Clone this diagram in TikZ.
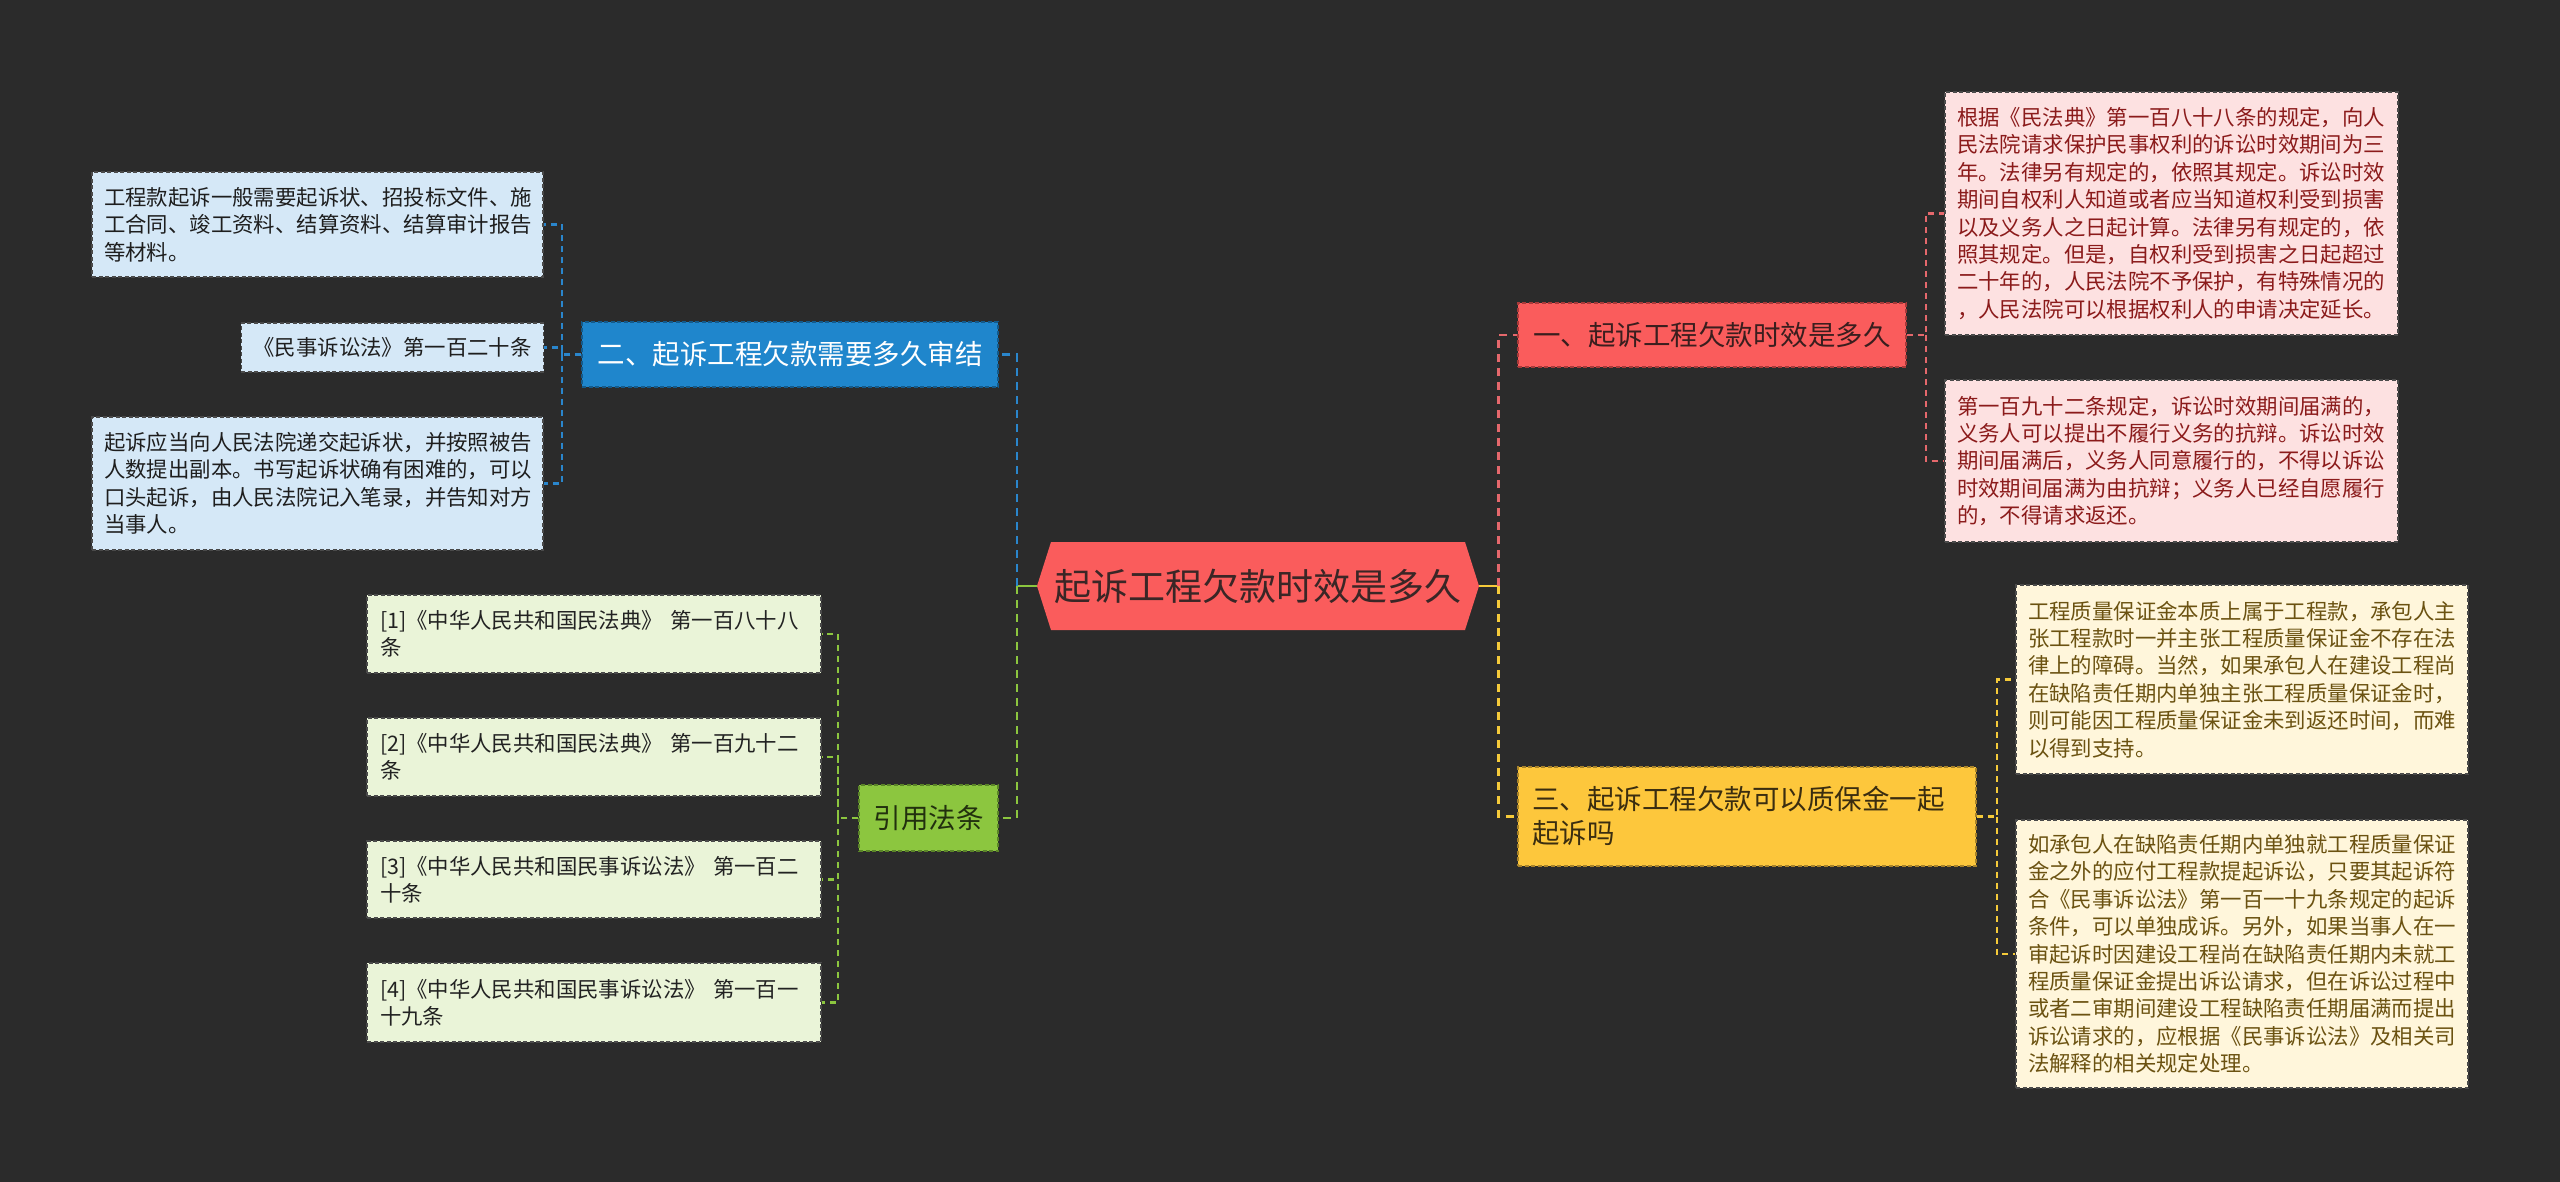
\documentclass[tikz,border=0pt]{standalone}
\usepackage{fontspec}
\setmainfont{Noto Sans CJK SC}
\usetikzlibrary{calc}
\definecolor{bg}{HTML}{2B2B2B}
\definecolor{centerfill}{HTML}{FA5C5C}
\definecolor{centertext}{HTML}{3A2626}
\definecolor{redfill}{HTML}{FA5C5C}
\definecolor{redline}{HTML}{A83A3A}
\definecolor{redtext}{HTML}{3A1E1E}
\definecolor{yelfill}{HTML}{FDC73C}
\definecolor{yelline}{HTML}{A8832A}
\definecolor{yeltext}{HTML}{3A2D10}
\definecolor{bluefill}{HTML}{1F86CC}
\definecolor{blueline}{HTML}{145A8A}
\definecolor{greenfill}{HTML}{8CC63F}
\definecolor{greenline}{HTML}{5A8428}
\definecolor{greentext}{HTML}{22300E}
\definecolor{pinkleaf}{HTML}{FDE1E1}
\definecolor{pinkleaftext}{HTML}{8B1B1B}
\definecolor{yelleaf}{HTML}{FFF6DB}
\definecolor{yelleaftext}{HTML}{6B5211}
\definecolor{blueleaf}{HTML}{D5E8F7}
\definecolor{blueleaftext}{HTML}{1E1E1E}
\definecolor{greenleaf}{HTML}{EAF4D8}
\definecolor{greenleaftext}{HTML}{222222}
\definecolor{leafline}{HTML}{4A4A4A}
\definecolor{redcon}{HTML}{E5686C}
\definecolor{yelcon}{HTML}{F5CA3A}
\definecolor{bluecon}{HTML}{2A86CC}
\definecolor{greencon}{HTML}{8CC63F}
\newcommand\leaffont{\fontsize{21.4}{27.4}\selectfont}
\newcommand\brfont{\fontsize{27.5}{34}\selectfont}
\newcommand\cenfont{\fontsize{37}{44}\selectfont}
\tikzset{
  boxbase/.style={rectangle, dash pattern=on 4pt off 2.5pt, line width=1.4pt, align=left, inner ysep=0pt, anchor=center},
  leafbox/.style={boxbase, draw=leafline, font=\leaffont, inner xsep=12pt},
  pinkbox/.style={leafbox, fill=pinkleaf, text=pinkleaftext},
  yelbox/.style={leafbox, fill=yelleaf, text=yelleaftext},
  bluebox/.style={leafbox, fill=blueleaf, text=blueleaftext},
  greenbox/.style={leafbox, fill=greenleaf, text=greenleaftext},
  branchbox/.style={boxbase, font=\brfont, inner xsep=14pt},
  maincon/.style={line width=2.6pt, dash pattern=on 8pt off 6pt},
  solidcon/.style={line width=2.6pt},
  leafcon/.style={line width=2.2pt, dash pattern=on 6pt off 5pt},
}
\begin{document}
\begin{tikzpicture}[x=1pt,y=-1pt]
\fill[bg] (0,0) rectangle (2560,1182);
\useasboundingbox (0,0) rectangle (2560,1182);

% center
\fill[centerfill] (1037,586) -- (1051,542) -- (1465,542) -- (1479,586) -- (1465,630) -- (1051,630) -- cycle;
\node[minimum width=442pt, minimum height=88pt, inner sep=0pt, font=\cenfont, text=centertext] (c) at (1258,586) {起诉工程欠款时效是多久};

% branches
\node[branchbox, fill=redfill, draw=redline, text=redtext, minimum width=388pt, minimum height=64pt] (b1) at (1712,335) {一、起诉工程欠款时效是多久};
\node[branchbox, fill=yelfill, draw=yelline, text=yeltext, text width=430pt, minimum width=458pt, minimum height=99pt] (b3) at (1747,816.5) {三、起诉工程欠款可以质保金一起\\起诉吗};
\node[branchbox, fill=bluefill, draw=blueline, text=white, minimum width=416pt, minimum height=65pt] (b2) at (790,354.5) {二、起诉工程欠款需要多久审结};
\node[branchbox, fill=greenfill, draw=greenline, text=greentext, minimum width=139pt, minimum height=66pt] (br) at (928.5,818) {引用法条};

% right leaves
\node[pinkbox, text width=429pt, minimum width=453pt, minimum height=243pt] (r1) at (2171.5,213.5) {根据《民法典》第一百八十八条的规定，向人\\民法院请求保护民事权利的诉讼时效期间为三\\年。法律另有规定的，依照其规定。诉讼时效\\期间自权利人知道或者应当知道权利受到损害\\以及义务人之日起计算。法律另有规定的，依\\照其规定。但是，自权利受到损害之日起超过\\二十年的，人民法院不予保护，有特殊情况的\\，人民法院可以根据权利人的申请决定延长。};
\node[pinkbox, text width=429pt, minimum width=453pt, minimum height=162pt] (r2) at (2171.5,461) {第一百九十二条规定，诉讼时效期间届满的，\\义务人可以提出不履行义务的抗辩。诉讼时效\\期间届满后，义务人同意履行的，不得以诉讼\\时效期间届满为由抗辩；义务人已经自愿履行\\的，不得请求返还。};
\node[yelbox, text width=428pt, minimum width=452pt, minimum height=189pt] (y1) at (2242,679.5) {工程质量保证金本质上属于工程款，承包人主\\张工程款时一并主张工程质量保证金不存在法\\律上的障碍。当然，如果承包人在建设工程尚\\在缺陷责任期内单独主张工程质量保证金时，\\则可能因工程质量保证金未到返还时间，而难\\以得到支持。};
\node[yelbox, text width=428pt, minimum width=452pt, minimum height=268pt] (y2) at (2242,954) {如承包人在缺陷责任期内单独就工程质量保证\\金之外的应付工程款提起诉讼，只要其起诉符\\合《民事诉讼法》第一百一十九条规定的起诉\\条件，可以单独成诉。另外，如果当事人在一\\审起诉时因建设工程尚在缺陷责任期内未就工\\程质量保证金提出诉讼请求，但在诉讼过程中\\或者二审期间建设工程缺陷责任期届满而提出\\诉讼请求的，应根据《民事诉讼法》及相关司\\法解释的相关规定处理。};

% left leaves
\node[bluebox, text width=427pt, minimum width=451pt, minimum height=105pt] (l1) at (317.5,224.5) {工程款起诉一般需要起诉状、招投标文件、施\\工合同、竣工资料、结算资料、结算审计报告\\等材料。};
\node[bluebox, align=center, minimum width=301pt, minimum height=49pt] (l2) at (392.5,347.5) {《民事诉讼法》第一百二十条};
\node[bluebox, text width=427pt, minimum width=451pt, minimum height=133pt] (l3) at (317.5,483.5) {起诉应当向人民法院递交起诉状，并按照被告\\人数提出副本。书写起诉状确有困难的，可以\\口头起诉，由人民法院记入笔录，并告知对方\\当事人。};

% reference leaves
\node[greenbox, inner xsep=13pt, text width=428pt, minimum width=454pt, minimum height=78pt] (f1) at (594,634) {[1]《中华人民共和国民法典》 第一百八十八\\条};
\node[greenbox, inner xsep=13pt, text width=428pt, minimum width=454pt, minimum height=78pt] (f2) at (594,757) {[2]《中华人民共和国民法典》 第一百九十二\\条};
\node[greenbox, inner xsep=13pt, text width=428pt, minimum width=454pt, minimum height=77pt] (f3) at (594,879.5) {[3]《中华人民共和国民事诉讼法》 第一百二\\十条};
\node[greenbox, inner xsep=13pt, text width=428pt, minimum width=454pt, minimum height=79pt] (f4) at (594,1002.5) {[4]《中华人民共和国民事诉讼法》 第一百一\\十九条};

% main connectors
\draw[solidcon, yelcon] (c.east) -- ++(19,0) coordinate (rt);
\draw[maincon, redcon] (rt) |- (b1.west);
\draw[maincon, yelcon] (rt) |- (b3.west);
\draw[solidcon, greencon] (c.west) -- ++(-20,0) coordinate (lt);
\draw[maincon, bluecon] (lt) |- (b2.east);
\draw[maincon, greencon] (lt) |- (br.east);

% leaf connectors
\draw[leafcon, redcon] (b1.east) -- ++(19,0) coordinate (j1) |- (r1.west);
\draw[leafcon, redcon] (j1) |- (r2.west);
\draw[leafcon, yelcon] (b3.east) -- ++(20,0) coordinate (j3) |- (y1.west);
\draw[leafcon, yelcon] (j3) |- (y2.west);
\draw[leafcon, bluecon] (b2.west) -- ++(-19,0) coordinate (j2) |- (l1.east);
\draw[leafcon, bluecon] (j2) |- (l2.east);
\draw[leafcon, bluecon] (j2) |- (l3.east);
\draw[leafcon, greencon] (br.west) -- ++(-20,0) coordinate (j4) |- (f1.east);
\draw[leafcon, greencon] (j4) |- (f2.east);
\draw[leafcon, greencon] (j4) |- (f3.east);
\draw[leafcon, greencon] (j4) |- (f4.east);
\end{tikzpicture}
\end{document}
